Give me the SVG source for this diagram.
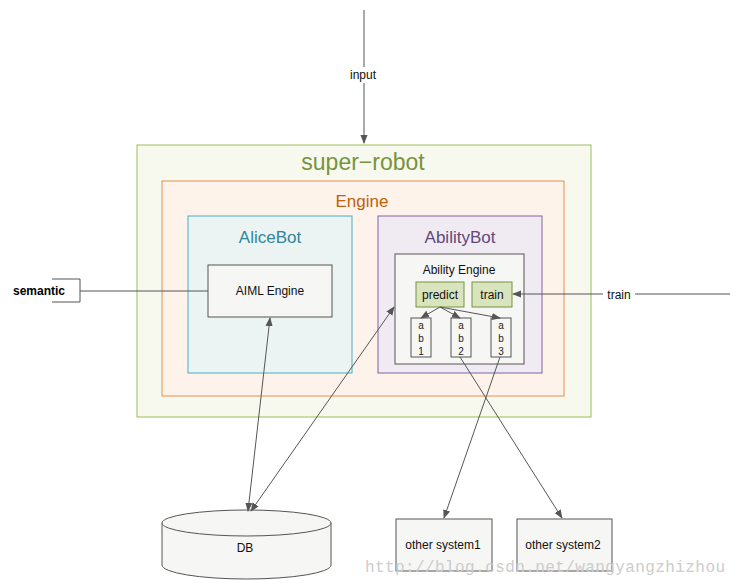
<svg xmlns="http://www.w3.org/2000/svg" width="737" height="586" viewBox="0 0 737 586">
<style>
text{font-family:"Liberation Sans",Arial,sans-serif;}
text.wm{font-family:"Liberation Mono","Courier New",monospace;}
.l{stroke:#555;stroke-width:1;fill:none}
.box{fill:#f6f6f4;stroke:#555}
.t{font-size:12px;fill:#111;text-anchor:middle}
.s{font-size:10px;fill:#222;text-anchor:middle}
</style>
<defs>
<marker id="a" viewBox="0 0 10 10" refX="9" refY="5" markerWidth="9" markerHeight="9" orient="auto-start-reverse"><path d="M0,1 L10,5 L0,9 z" fill="#555"/></marker>
</defs>
<rect width="737" height="586" fill="#fff"/>
<g id="super-robot"><rect x="137" y="145" width="454" height="272" fill="#f7f9ef" stroke="#9bbb59"/><text x="363" y="170" font-size="23" fill="#77933c" text-anchor="middle">super−robot</text></g>
<g id="engine"><rect x="162" y="181" width="402" height="215" fill="#fdf3ea" stroke="#e6904a"/><text x="362" y="207" font-size="17" fill="#c0600a" text-anchor="middle">Engine</text></g>
<g id="alicebot"><rect x="188" y="216" width="164" height="157" fill="#ebf4f2" stroke="#4bacc6"/><text x="270" y="243" font-size="17" fill="#31859c" text-anchor="middle">AliceBot</text></g>
<g id="aiml"><rect class="box" x="208" y="265" width="124" height="52"/><text class="t" x="270" y="295">AIML Engine</text></g>
<g id="abilitybot"><rect x="378" y="216" width="164" height="157" fill="#f0ebf3" stroke="#8064a2"/><text x="460" y="243" font-size="17" fill="#5f497a" text-anchor="middle">AbilityBot</text></g>
<g id="ability-engine"><rect class="box" x="395" y="254" width="129" height="110" fill="#f4f6f6"/><text class="t" x="459" y="274">Ability  Engine</text></g>
<g id="predict"><rect x="416" y="282" width="48" height="25" fill="#d7e4bd" stroke="#77933c"/><text class="t" x="440" y="299">predict</text></g>
<g id="train"><rect x="472" y="282" width="40" height="25" fill="#d7e4bd" stroke="#77933c"/><text class="t" x="492" y="299">train</text></g>
<g id="ab1"><rect class="box" x="411" y="318" width="20" height="39" fill="#fff"/><text class="s" x="421" y="329">a</text><text class="s" x="421" y="342">b</text><text class="s" x="421" y="355">1</text></g>
<g id="ab2"><rect class="box" x="451" y="318" width="20" height="39" fill="#fff"/><text class="s" x="461" y="329">a</text><text class="s" x="461" y="342">b</text><text class="s" x="461" y="355">2</text></g>
<g id="ab3"><rect class="box" x="491" y="318" width="20" height="39" fill="#fff"/><text class="s" x="501" y="329">a</text><text class="s" x="501" y="342">b</text><text class="s" x="501" y="355">3</text></g>
<g id="semantic"><path d="M52,279 H80 V302 H52" class="l"/><text x="13" y="295" font-size="12" font-weight="bold" fill="#000">semantic</text></g>
<g id="db"><path d="M162,523 V565 A84.5,14 0 0 0 331,565 V523" fill="#f6f6f4" stroke="#555"/><ellipse cx="246.5" cy="523" rx="84.5" ry="13" fill="#f6f6f4" stroke="#555"/><text class="t" x="245" y="552">DB</text></g>
<g id="os1"><rect class="box" x="396" y="519" width="96" height="52"/><text class="t" x="443" y="549">other  system1</text></g>
<g id="os2"><rect class="box" x="517" y="519" width="95" height="52"/><text class="t" x="563" y="549">other  system2</text></g>
<g id="connectors">
<line class="l" x1="364" y1="10" x2="364" y2="143" marker-end="url(#a)"/>
<rect x="345" y="67" width="38" height="16" fill="#fff"/><text class="t" x="363" y="79">input</text>
<line class="l" x1="80" y1="291" x2="208" y2="291"/>
<line class="l" x1="730" y1="294" x2="513" y2="294" marker-end="url(#a)"/>
<rect x="603" y="287" width="32" height="15" fill="#fff"/><text class="t" x="619" y="299">train</text>
<line class="l" x1="270" y1="318" x2="248" y2="511" marker-start="url(#a)" marker-end="url(#a)"/>
<line class="l" x1="251" y1="511" x2="394" y2="307" marker-start="url(#a)" marker-end="url(#a)"/>
<line class="l" x1="440" y1="307" x2="421" y2="318" marker-end="url(#a)"/>
<line class="l" x1="440" y1="307" x2="460" y2="318" marker-end="url(#a)"/>
<line class="l" x1="440" y1="307" x2="500" y2="318" marker-end="url(#a)"/>
<line class="l" x1="500" y1="357" x2="444" y2="518" marker-end="url(#a)"/>
<line class="l" x1="460" y1="357" x2="562" y2="518" marker-end="url(#a)"/>
</g>
<text class="wm" x="365" y="572" font-size="16" fill="#ccc" textLength="360" lengthAdjust="spacing">http://blog.csdn.net/wangyangzhizhou</text>
</svg>
